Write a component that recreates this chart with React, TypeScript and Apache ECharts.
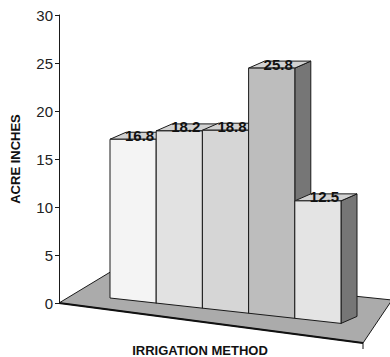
import React, { useEffect, useRef } from "react";
import * as echarts from "echarts";

const categories = ["Method 1", "Method 2", "Method 3", "Method 4", "Method 5"];
const acreInches = [16.8, 18.2, 18.8, 25.8, 12.5];
const yMin = 0;
const yMax = 30;
const yInterval = 5;

const FRONT_COLORS = ["#f4f4f4", "#e2e2e2", "#d6d6d6", "#bdbdbd", "#e4e4e4"];
const TOP_COLOR = "#d2d2d2";
const SIDE_COLOR = "#767676";
const DX = 16;
const DY = -7;
const SKEW = 0.11;

export default function App() {
  const ref = useRef<HTMLDivElement>(null);
  useEffect(() => {
    if (!ref.current) return;
    const chart = echarts.init(ref.current, null, { renderer: "svg" });

    const renderBar = (params: any, api: any) => {
      const i = api.value(0);
      const v = api.value(1);
      const c = api.coord([i, v]);
      const c0 = api.coord([i, 0]);
      const band = api.size([1, 0])[0];
      const L = c[0] - band / 2;
      const R = c[0] + band / 2;
      const x0 = params.coordSys.x;
      const base = c0[1];
      const yb = (x: number) => base + SKEW * (x - x0);
      const h = base - c[1];
      const yTop = yb(c[0]) - h;
      const stroke = { stroke: "#1a1a1a", lineWidth: 1 };
      return {
        type: "group",
        children: [
          {
            type: "polygon",
            shape: { points: [[R, yTop], [R + DX, yTop + DY], [R + DX, yb(R) + DY], [R, yb(R)]] },
            style: { fill: SIDE_COLOR, ...stroke },
          },
          {
            type: "polygon",
            shape: { points: [[L, yTop], [R, yTop], [R + DX, yTop + DY], [L + DX, yTop + DY]] },
            style: { fill: TOP_COLOR, ...stroke },
          },
          {
            type: "polygon",
            shape: { points: [[L, yTop], [R, yTop], [R, yb(R)], [L, yb(L)]] },
            style: { fill: FRONT_COLORS[i % FRONT_COLORS.length], ...stroke },
          },
          {
            type: "text",
            style: {
              text: String(v),
              x: R - 2,
              y: yTop - 4,
              align: "right",
              verticalAlign: "middle",
              fill: "#111",
              font: "bold 15px 'Liberation Sans', Arial, sans-serif",
            },
          },
        ],
      };
    };

    chart.setOption({
      animation: false,
      backgroundColor: "#ffffff",
      grid: [
        { left: 59, right: 30, top: 15, bottom: 54 },
        { left: 110, right: 49, top: 10, bottom: 59 },
      ],
      xAxis: [
        { type: "category", data: categories, gridIndex: 0, show: false },
        { type: "category", data: categories, gridIndex: 1, show: false },
      ],
      yAxis: [
        {
          type: "value",
          gridIndex: 0,
          min: yMin,
          max: yMax,
          interval: yInterval,
          name: "ACRE INCHES",
          nameLocation: "middle",
          nameRotate: 90,
          nameGap: 37,
          nameTextStyle: {
            fontFamily: "'Liberation Sans', Arial, sans-serif",
            fontWeight: "bold",
            fontSize: 13,
            color: "#111",
          },
          axisLine: { show: true, lineStyle: { color: "#1a1a1a", width: 1 } },
          axisTick: { show: true, length: 4, lineStyle: { color: "#1a1a1a" } },
          splitLine: { show: false },
          axisLabel: {
            margin: 6,
            fontFamily: "'Liberation Sans', Arial, sans-serif",
            fontSize: 15,
            color: "#222",
          },
        },
        { type: "value", gridIndex: 1, min: yMin, max: yMax, show: false },
      ],
      graphic: [
        {
          type: "polygon",
          z: 0,
          shape: { points: [[59, 303], [112, 271], [392, 300], [363, 343]] },
          style: { fill: "#ababab", stroke: "#1a1a1a", lineWidth: 1 },
        },
        {
          type: "line",
          z: 1,
          shape: { x1: 59, y1: 303, x2: 363, y2: 343 },
          style: { stroke: "#111", lineWidth: 2 },
        },
        {
          type: "line",
          z: 1,
          shape: { x1: 363, y1: 343, x2: 363, y2: 349 },
          style: { stroke: "#111", lineWidth: 1 },
        },
        {
          type: "text",
          z: 1,
          x: 200,
          y: 350,
          style: {
            text: "IRRIGATION METHOD",
            align: "center",
            verticalAlign: "middle",
            fill: "#111",
            font: "bold 13px 'Liberation Sans', Arial, sans-serif",
          },
        },
      ],
      series: [
        {
          type: "custom",
          xAxisIndex: 1,
          yAxisIndex: 1,
          z: 3,
          renderItem: renderBar,
          data: acreInches.map((v, i) => [i, v]),
          encode: { x: 0, y: 1 },
        },
      ],
    });
    return () => chart.dispose();
  }, []);
  return (
    <div
      ref={ref}
      style={{ position: "fixed", left: 0, top: 0, width: 390, height: 357 }}
    />
  );
}
